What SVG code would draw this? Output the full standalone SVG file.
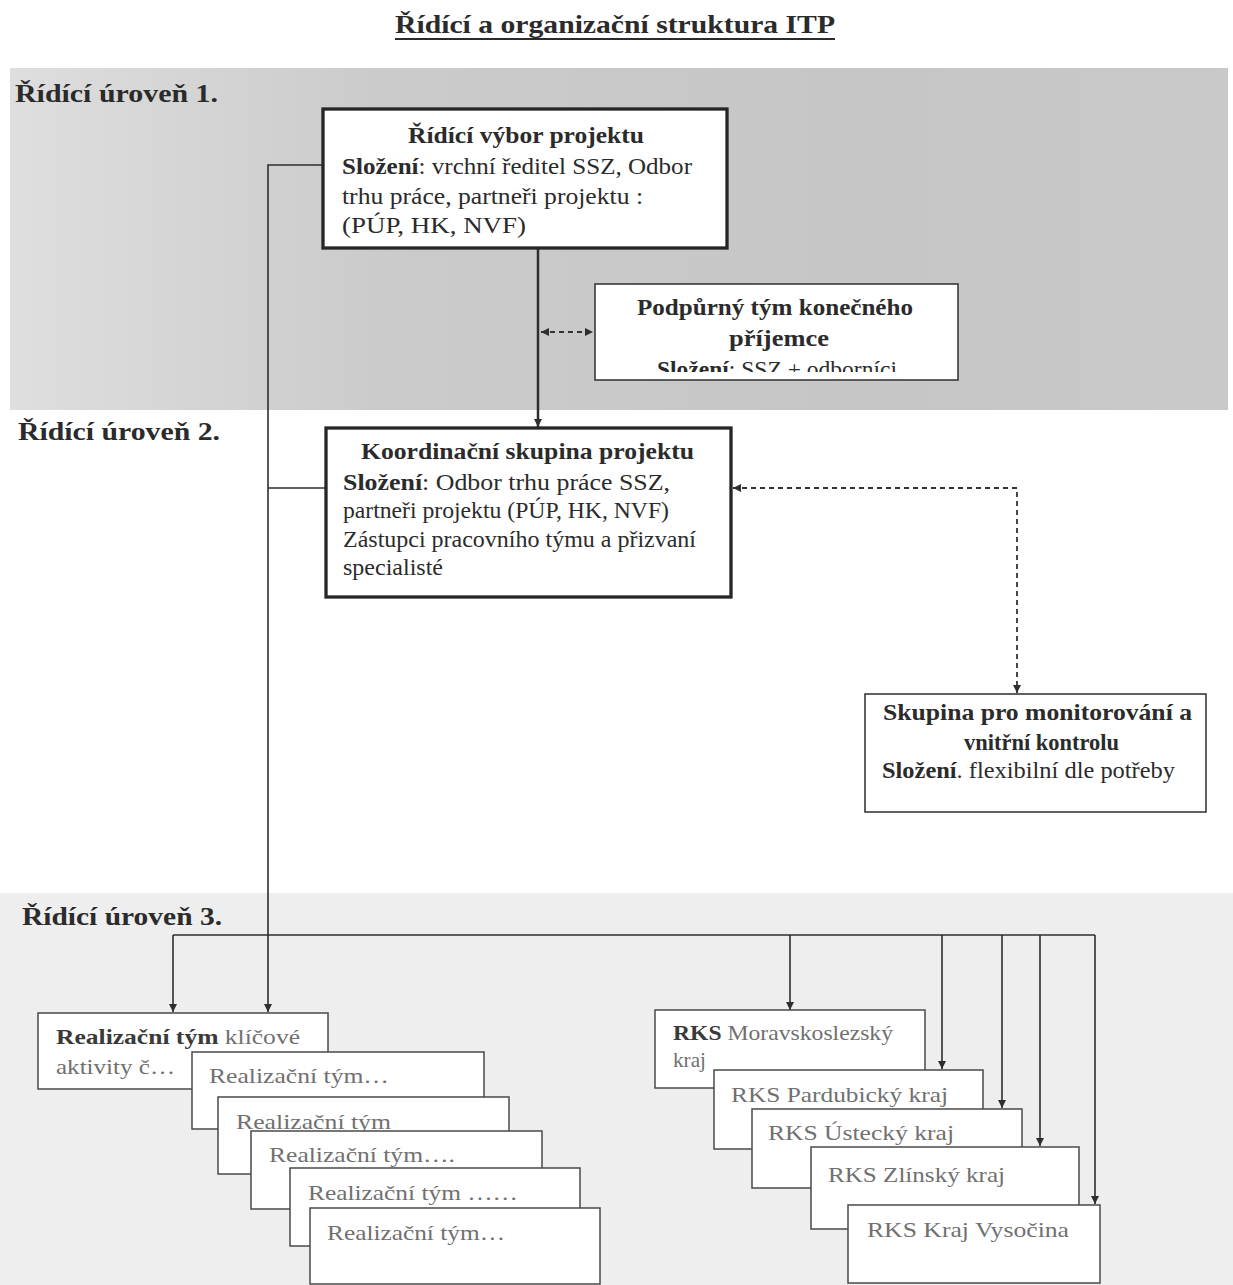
<svg xmlns="http://www.w3.org/2000/svg" width="1233" height="1285" viewBox="0 0 1233 1285">
  <style>
    text { font-family: "Liberation Serif", "Times New Roman", serif; fill: #2b2b2b; }
    .title { font-size: 26px; font-weight: bold; }
    .lvl { font-size: 26px; font-weight: bold; }
    .t { font-size: 23px; }
    .b { font-weight: bold; }
    .nb { fill: #fff; stroke: #262626; stroke-width: 3.3; }
    .ns { fill: #fff; stroke: #3a3a3a; stroke-width: 1.6; }
    .nl { fill: #fff; stroke: #4a4a4a; stroke-width: 1.5; }
    .lt { font-size: 22px; fill: #707070; }
    .lb { font-weight: bold; fill: #3a3a3a; }
    .con { fill: none; stroke: #2e2e2e; stroke-width: 1.6; }
    .thick { stroke-width: 2.5; }
    .dash { fill: none; stroke: #333; stroke-width: 1.8; stroke-dasharray: 5 4; }
  </style>
  <defs>
    <linearGradient id="g1" x1="0" y1="0" x2="1" y2="0">
      <stop offset="0" stop-color="#dedede"/>
      <stop offset="0.3" stop-color="#cbcbcb"/>
      <stop offset="0.7" stop-color="#c6c6c6"/>
      <stop offset="1" stop-color="#c9c9c9"/>
    </linearGradient>
    <marker id="ah" viewBox="0 0 10 10" refX="10" refY="5" markerWidth="9" markerHeight="8" markerUnits="userSpaceOnUse" orient="auto-start-reverse">
      <path d="M0,0 L10,5 L0,10 z" fill="#2e2e2e"/>
    </marker>
    <clipPath id="clipP">
      <rect x="596" y="285" width="360" height="87"/>
    </clipPath>
  </defs>

  <rect x="0" y="0" width="1233" height="1285" fill="#ffffff"/>
  <rect x="10" y="68" width="1218" height="342" fill="url(#g1)"/>
  <rect x="0" y="893" width="1233" height="392" fill="#eeeeee"/>

  <g id="heading">
    <text class="title" x="395" y="33" textLength="440" lengthAdjust="spacingAndGlyphs">Řídící a organizační struktura ITP</text>
    <line x1="395" y1="39" x2="835" y2="39" stroke="#2b2b2b" stroke-width="2"/>
  </g>
  <g id="levels">
    <text class="lvl" x="15" y="102" textLength="203" lengthAdjust="spacingAndGlyphs">Řídící úroveň 1.</text>
    <text class="lvl" x="18" y="440" textLength="202" lengthAdjust="spacingAndGlyphs">Řídící úroveň 2.</text>
    <text class="lvl" x="22" y="925" textLength="200" lengthAdjust="spacingAndGlyphs">Řídící úroveň 3.</text>
  </g>

  <g id="connectors">
    <line class="con thick" x1="538" y1="249" x2="538" y2="427" marker-end="url(#ah)"/>
    <line class="dash" x1="541" y1="332" x2="593" y2="332" marker-start="url(#ah)" marker-end="url(#ah)"/>
    <path class="con" d="M322,165 H268 V1012" marker-end="url(#ah)"/>
    <path class="con" d="M325,488 H268"/>
    <path class="dash" d="M733,488 H1017 V693" marker-start="url(#ah)" marker-end="url(#ah)"/>
    <path class="con" d="M173,935 H1095"/>
    <line class="con" x1="173" y1="935" x2="173" y2="1012" marker-end="url(#ah)"/>
    <line class="con" x1="790" y1="935" x2="790" y2="1010" marker-end="url(#ah)"/>
    <line class="con" x1="942" y1="935" x2="942" y2="1069" marker-end="url(#ah)"/>
    <line class="con" x1="1002" y1="935" x2="1002" y2="1108" marker-end="url(#ah)"/>
    <line class="con" x1="1040" y1="935" x2="1040" y2="1146" marker-end="url(#ah)"/>
    <line class="con" x1="1095" y1="935" x2="1095" y2="1204" marker-end="url(#ah)"/>
  </g>

  <g id="ridici-vybor">
    <rect class="nb" x="323" y="109" width="404" height="139"/>
    <text class="t b" x="408" y="143" textLength="236" lengthAdjust="spacingAndGlyphs">Řídící výbor projektu</text>
    <text class="t" x="342" y="174" textLength="350" lengthAdjust="spacingAndGlyphs"><tspan class="b">Složení</tspan>: vrchní ředitel SSZ, Odbor</text>
    <text class="t" x="342" y="204" textLength="301" lengthAdjust="spacingAndGlyphs">trhu práce, partneři projektu :</text>
    <text class="t" x="342" y="233" textLength="184" lengthAdjust="spacingAndGlyphs">(PÚP,  HK, NVF)</text>
  </g>

  <g id="podpurny-tym">
    <rect class="ns" x="595" y="284" width="363" height="96"/>
    <text class="t b" x="637" y="315" textLength="276" lengthAdjust="spacingAndGlyphs">Podpůrný tým konečného</text>
    <text class="t b" x="729" y="346" textLength="100" lengthAdjust="spacingAndGlyphs">příjemce</text>
    <g clip-path="url(#clipP)">
      <text class="t" x="657" y="377" textLength="240" lengthAdjust="spacingAndGlyphs"><tspan class="b">Složení</tspan>: SSZ +  odborníci</text>
    </g>
  </g>

  <g id="koordinacni-skupina">
    <rect class="nb" x="326" y="428" width="405" height="169"/>
    <text class="t b" x="361" y="459" textLength="333" lengthAdjust="spacingAndGlyphs">Koordinační skupina projektu</text>
    <text class="t" x="343" y="490" textLength="327" lengthAdjust="spacingAndGlyphs"><tspan class="b">Složení</tspan>: Odbor trhu práce SSZ,</text>
    <text class="t" x="343" y="518" textLength="326" lengthAdjust="spacingAndGlyphs">partneři projektu (PÚP, HK, NVF)</text>
    <text class="t" x="343" y="547" textLength="353" lengthAdjust="spacingAndGlyphs">Zástupci pracovního týmu  a přizvaní</text>
    <text class="t" x="343" y="575" textLength="100" lengthAdjust="spacingAndGlyphs">specialisté</text>
  </g>

  <g id="monitorovani">
    <rect class="ns" x="865" y="694" width="341" height="118"/>
    <text class="t b" x="883" y="720" textLength="309" lengthAdjust="spacingAndGlyphs">Skupina pro monitorování a</text>
    <text class="t b" x="964" y="750" textLength="155" lengthAdjust="spacingAndGlyphs">vnitřní kontrolu</text>
    <text class="t" x="882" y="778" textLength="293" lengthAdjust="spacingAndGlyphs"><tspan class="b">Složení</tspan>. flexibilní  dle  potřeby</text>
  </g>

  <g id="realizacni-tym-1">
    <rect class="nl" x="38" y="1013" width="290" height="76"/>
    <text class="lt" x="56" y="1044" textLength="244" lengthAdjust="spacingAndGlyphs"><tspan class="lb">Realizační tým</tspan> klíčové</text>
    <text class="lt" x="56" y="1074" textLength="119" lengthAdjust="spacingAndGlyphs">aktivity č…</text>
  </g>
  <g id="realizacni-tym-2">
    <rect class="nl" x="192" y="1052" width="292" height="77"/>
    <text class="lt" x="209" y="1083" textLength="180" lengthAdjust="spacingAndGlyphs">Realizační tým…</text>
  </g>
  <g id="realizacni-tym-3">
    <rect class="nl" x="218" y="1097" width="291" height="77"/>
    <text class="lt" x="236" y="1129" textLength="155" lengthAdjust="spacingAndGlyphs">Realizační tým</text>
  </g>
  <g id="realizacni-tym-4">
    <rect class="nl" x="251" y="1131" width="291" height="78"/>
    <text class="lt" x="269" y="1162" textLength="186" lengthAdjust="spacingAndGlyphs">Realizační tým….</text>
  </g>
  <g id="realizacni-tym-5">
    <rect class="nl" x="290" y="1168" width="290" height="78"/>
    <text class="lt" x="308" y="1200" textLength="210" lengthAdjust="spacingAndGlyphs">Realizační tým ……</text>
  </g>
  <g id="realizacni-tym-6">
    <rect class="nl" x="310" y="1208" width="290" height="76"/>
    <text class="lt" x="327" y="1240" textLength="178" lengthAdjust="spacingAndGlyphs">Realizační tým…</text>
  </g>

  <g id="rks-moravskoslezsky">
    <rect class="nl" x="655" y="1010" width="270" height="78"/>
    <text class="lt" x="673" y="1040" textLength="220" lengthAdjust="spacingAndGlyphs"><tspan class="lb">RKS</tspan> Moravskoslezský</text>
    <text class="lt" x="673" y="1067" textLength="33" lengthAdjust="spacingAndGlyphs">kraj</text>
  </g>
  <g id="rks-pardubicky">
    <rect class="nl" x="714" y="1070" width="269" height="79"/>
    <text class="lt" x="731" y="1102" textLength="217" lengthAdjust="spacingAndGlyphs">RKS Pardubický kraj</text>
  </g>
  <g id="rks-ustecky">
    <rect class="nl" x="752" y="1109" width="270" height="79"/>
    <text class="lt" x="768" y="1140" textLength="186" lengthAdjust="spacingAndGlyphs">RKS Ústecký kraj</text>
  </g>
  <g id="rks-zlinsky">
    <rect class="nl" x="811" y="1147" width="268" height="82"/>
    <text class="lt" x="828" y="1182" textLength="177" lengthAdjust="spacingAndGlyphs">RKS Zlínský kraj</text>
  </g>
  <g id="rks-vysocina">
    <rect class="nl" x="848" y="1205" width="252" height="78"/>
    <text class="lt" x="867" y="1237" textLength="202" lengthAdjust="spacingAndGlyphs">RKS Kraj Vysočina</text>
  </g>
</svg>
